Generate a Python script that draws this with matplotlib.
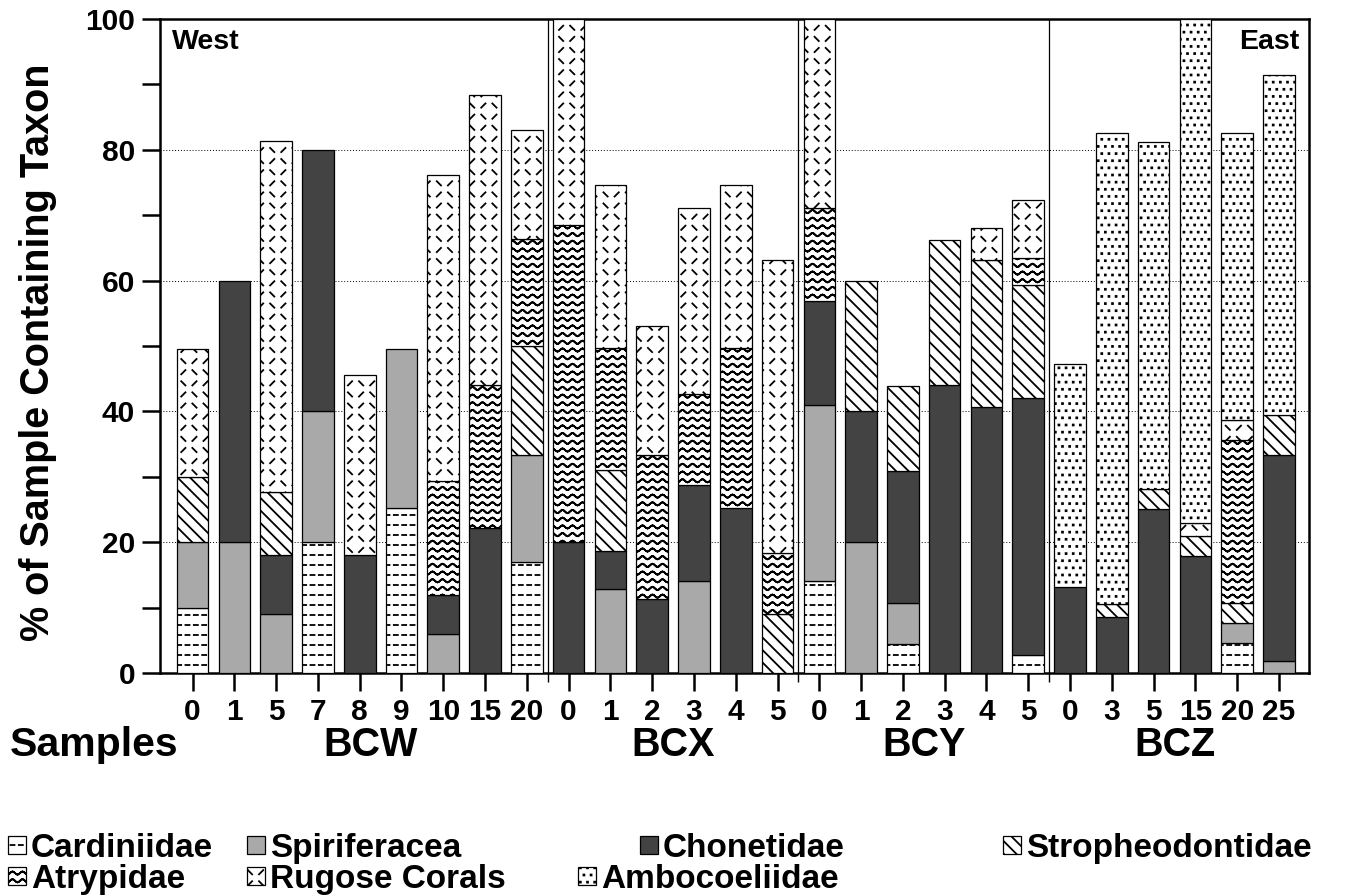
import numpy as np
import matplotlib
matplotlib.use("Agg")
import matplotlib.pyplot as plt
import matplotlib.hatch as mhatch
from matplotlib.path import Path
from matplotlib.patches import Rectangle
from matplotlib.ticker import FixedLocator, MultipleLocator
from matplotlib.transforms import blended_transform_factory

# ---------------------------------------------------------------- data
sample_labels = ['0', '1', '5', '7', '8', '9', '10', '15', '20',
                 '0', '1', '2', '3', '4', '5',
                 '0', '1', '2', '3', '4', '5',
                 '0', '3', '5', '15', '20', '25']
groups = ['BCW', 'BCX', 'BCY', 'BCZ']
group_sizes = [9, 6, 6, 6]

taxa = ['Cardiniidae', 'Spiriferacea', 'Chonetidae', 'Stropheodontidae',
        'Atrypidae', 'Rugose Corals', 'Ambocoeliidae']

# % of samples containing each taxon (stacked from the base upward)
cardiniidae = [10, 0, 0, 20, 0, 25.2, 0, 0, 17,
               0, 0, 0, 0, 0, 0,
               14.1, 0, 4.5, 0, 0, 2.7,
               0, 0, 0, 0, 4.6, 0]
spiriferacea = [10, 20, 9, 20, 0, 24.3, 6, 0, 16.4,
                0, 12.8, 0, 14.1, 0, 0,
                26.9, 20, 6.2, 0, 0, 0,
                0, 0, 0, 0, 3.1, 1.9]
chonetidae = [0, 40, 9, 40, 18, 0, 6, 22.2, 0,
              20, 5.9, 11.3, 14.6, 25.3, 0,
              15.9, 20, 20.2, 44, 40.7, 39.4,
              13.1, 8.6, 25.1, 17.9, 0, 31.5]
stropheodontidae = [10, 0, 9.7, 0, 0, 0, 0, 0, 16.6,
                    0, 12.4, 0, 0, 0, 9,
                    0, 20, 13, 22.2, 22.4, 17.3,
                    0, 1.9, 3, 3.1, 3, 6]
atrypidae = [0, 0, 0, 0, 0, 0, 17.3, 21.8, 16.3,
             48.5, 18.6, 22.1, 13.9, 24.4, 9.3,
             14.2, 0, 0, 0, 0, 4.1,
             0, 0, 0, 0, 25, 0]
rugose_corals = [19.5, 0, 53.7, 0, 27.5, 0, 46.9, 44.4, 16.8,
                 31.5, 24.9, 19.6, 28.5, 24.9, 44.9,
                 28.9, 0, 0, 0, 5, 8.8,
                 0, 0, 0, 2, 3, 0]
ambocoeliidae = [0, 0, 0, 0, 0, 0, 0, 0, 0,
                 0, 0, 0, 0, 0, 0,
                 0, 0, 0, 0, 0, 0,
                 34.2, 72.1, 53.1, 77, 43.9, 52]

series = [cardiniidae, spiriferacea, chonetidae, stropheodontidae,
          atrypidae, rugose_corals, ambocoeliidae]


# ------------------------------------------------- fill textures
class _SegmentPattern(mhatch.HatchPatternBase):
    """Texture made of independent straight strokes in the unit tile."""
    key = None

    def __init__(self, hatch, density):
        if self.key is not None and self.key in hatch:
            self.segs = np.asarray(self.build(), dtype=float).reshape(-1, 2, 2)
        else:
            self.segs = np.empty((0, 2, 2))
        self.num_vertices = len(self.segs) * 2

    def set_vertices_and_codes(self, vertices, codes):
        vertices[:] = self.segs.reshape(-1, 2)
        codes[0::2] = Path.MOVETO
        codes[1::2] = Path.LINETO


class DashRows(_SegmentPattern):
    key = '|'

    def build(self):
        h = 0.02
        ys = (np.arange(10) + 0.5) / 10
        xs = (np.arange(12) + 0.5) / 12
        return [[(x - h, y), (x + h, y)] for y in ys for x in xs]


class WavyRows(_SegmentPattern):
    key = 'o'

    def build(self):
        t = np.linspace(0, 1, 10 * 8 + 1)
        segs = []
        for y0 in (np.arange(13) + 0.5) / 13:
            yy = y0 + 0.015 * np.sin(2 * np.pi * 10 * t)
            for k in range(len(t) - 1):
                segs.append([(t[k], yy[k]), (t[k + 1], yy[k + 1])])
        return segs


class CoralTicks(_SegmentPattern):
    key = 'O'

    def build(self):
        h = 0.021
        segs = []
        n = 9
        for i in range(n):
            for j in range(n):
                x = (j + 0.5) / n
                y = (i + 0.5) / n
                if (i + j) % 2 == 0:
                    segs.append([(x - h, y + h), (x + h, y - h)])
                else:
                    segs.append([(x - h, y - h), (x + h, y + h)])
        return segs


class DiagonalLines(_SegmentPattern):
    key = '\\'

    def build(self):
        n = 8
        return [[(k / n, 1.0), (k / n + 1.0, 0.0)] for k in range(-n, n + 1)]


class DotGrid(mhatch.HatchPatternBase):
    key = '*'

    def __init__(self, hatch, density):
        self.centers = []
        if self.key in hatch:
            n = 14
            for i in range(n):
                for j in range(n):
                    x = (j + 0.25 + 0.5 * (i % 2)) / n
                    y = (i + 0.5) / n
                    self.centers.append((x, y))
        self.num_vertices = len(self.centers) * 5

    def set_vertices_and_codes(self, vertices, codes):
        s = 0.0045
        for k, (x, y) in enumerate(self.centers):
            vertices[5 * k:5 * k + 5] = [(x - s, y - s), (x + s, y - s),
                                         (x + s, y + s), (x - s, y + s),
                                         (x - s, y - s)]
            codes[5 * k:5 * k + 5] = [Path.MOVETO, Path.LINETO, Path.LINETO,
                                      Path.LINETO, Path.CLOSEPOLY]


mhatch._hatch_types[:] = [DashRows, WavyRows, CoralTicks, DiagonalLines, DotGrid]

styles = {
    'Cardiniidae':      dict(facecolor='white', hatch='|'),
    'Spiriferacea':     dict(facecolor='#a9a9a9', hatch=None),
    'Chonetidae':       dict(facecolor='#434343', hatch=None),
    'Stropheodontidae': dict(facecolor='white', hatch='\\'),
    'Atrypidae':        dict(facecolor='white', hatch='o'),
    'Rugose Corals':    dict(facecolor='white', hatch='O'),
    'Ambocoeliidae':    dict(facecolor='white', hatch='*'),
}

# ---------------------------------------------------------------- figure
plt.rcParams['font.family'] = ['Liberation Sans', 'DejaVu Sans']
plt.rcParams['font.weight'] = 'bold'
plt.rcParams['hatch.linewidth'] = 1.3

W, H = 1371, 896
fig = plt.figure(figsize=(W / 100, H / 100), dpi=100)
ax = fig.add_axes([160 / W, 1 - 673 / H, (1309 - 160) / W, (673 - 19) / H])

x = np.arange(len(sample_labels))
bar_width = 0.757
bottom = np.zeros(len(x))
for name, vals in zip(taxa, series):
    vals = np.asarray(vals, dtype=float)
    keep = vals > 0
    st = styles[name]
    ax.bar(x[keep], vals[keep], bottom=bottom[keep], width=bar_width,
           facecolor=st['facecolor'], hatch=st['hatch'],
           edgecolor='black', linewidth=0.9, zorder=3)
    bottom += vals

ax.set_xlim(-0.78, 26.72)
ax.set_ylim(0, 100)

# group separators
bounds = np.cumsum(group_sizes)[:-1] - 0.5
for b in bounds:
    ax.axvline(b, color='black', linewidth=0.9, zorder=2)

ax.set_axisbelow(True)
ax.yaxis.grid(True, which='major', linestyle=(0, (1, 2)), color='black',
              linewidth=0.7)

ax.set_yticks(np.arange(0, 101, 20))
ax.yaxis.set_minor_locator(MultipleLocator(10))
ax.set_xticks(x)
ax.set_xticklabels(sample_labels)
ax.xaxis.set_minor_locator(FixedLocator(bounds))

ax.tick_params(axis='both', which='major', direction='out', length=13,
               width=1.8, labelsize=21.5, pad=5)
ax.tick_params(axis='y', which='minor', direction='out', length=13, width=1.8)
ax.tick_params(axis='x', which='minor', direction='out', length=6.5, width=1.0)
for lab in ax.get_xticklabels() + ax.get_yticklabels():
    lab.set_fontweight('bold')

for sp in ax.spines.values():
    sp.set_linewidth(1.8)

ax.text(0.010, 0.985, 'West', transform=ax.transAxes, ha='left', va='top',
        fontsize=20.5, fontweight='bold')
ax.text(0.992, 0.985, 'East', transform=ax.transAxes, ha='right', va='top',
        fontsize=20.5, fontweight='bold')

fig.text(38 / W, 1 - 352 / H, '% of Sample Containing Taxon', rotation=90,
         ha='center', va='center', fontsize=28.5, fontweight='bold')

# sample group labels
tr = blended_transform_factory(ax.transData, fig.transFigure)
fig.text(10 / W, 1 - 745 / H, 'Samples', ha='left', va='center',
         fontsize=29.5, fontweight='bold')
start = 0
for g, n in zip(groups, group_sizes):
    cx = start + (n - 1) / 2
    if g == 'BCW':
        cx += 0.27
    fig.text(cx, 1 - 745 / H, g, transform=tr, ha='center', va='center',
             fontsize=28.5, fontweight='bold')
    start += n

# legend (two rows of swatches with names)
legend_pos = {
    'Cardiniidae':      (8, 857),
    'Spiriferacea':     (247, 857),
    'Chonetidae':       (640, 857),
    'Stropheodontidae': (1003, 857),
    'Atrypidae':        (8, 888),
    'Rugose Corals':    (247, 888),
    'Ambocoeliidae':    (578, 888),
}
box = 18
for name in taxa:
    px, py = legend_pos[name]
    st = styles[name]
    fig.add_artist(Rectangle((px / W, 1 - (py - 3) / H), box / W, box / H,
                             transform=fig.transFigure,
                             facecolor=st['facecolor'], hatch=st['hatch'],
                             edgecolor='black', linewidth=0.9))
    fig.text((px + box + 5) / W, 1 - py / H, name, ha='left', va='baseline',
             fontsize=24, fontweight='bold')

fig.savefig('out.png', dpi=100)
